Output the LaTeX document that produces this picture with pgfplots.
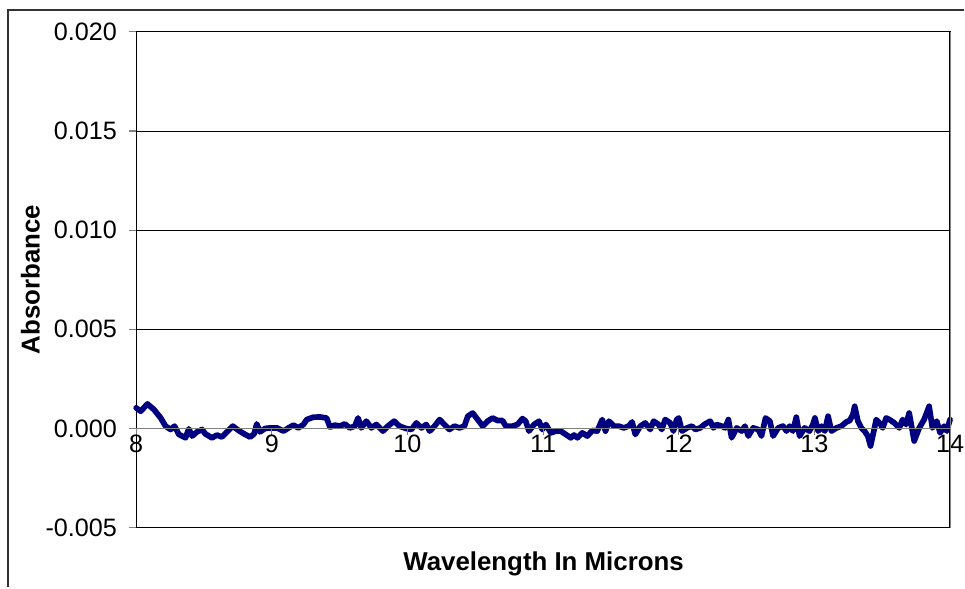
\documentclass[border=0pt]{standalone}
\usepackage{pgfplots}
\pgfplotsset{compat=1.18}
\usepackage{fontspec}
\setmainfont{Liberation Sans}
\definecolor{navyline}{RGB}{0,0,128}
\begin{document}
\begin{tikzpicture}
\begin{axis}[
  name=main,
  scale only axis, width=614.25pt, height=374.25pt,
  xmin=8, xmax=14, ymin=-0.005, ymax=0.020,
  axis lines=box,
  xtick=\empty,
  ytick={-0.005,0,0.005,0.010,0.015,0.020},
  ytick pos=left, tick align=outside, major tick length=5.25pt,
  y tick style={gray, line width=0.8pt},
  scaled y ticks=false,
  yticklabel style={/pgf/number format/fixed, /pgf/number format/fixed zerofill, /pgf/number format/precision=3, /pgf/number format/assume math mode=true},
  yticklabel style={font=\fontsize{19}{22}\selectfont, anchor=east, inner sep=0pt, xshift=-9pt},
  ymajorgrids, grid style={black, line width=0.6pt},
  axis line style={black, line width=0.9pt},
  xlabel={Wavelength In Microns},
  ylabel={Absorbance},
  xlabel style={font=\fontsize{19.5}{23}\selectfont\bfseries, at={(axis description cs:0.5006,-0.0721)}, anchor=center},
  ylabel style={font=\fontsize{19.5}{23}\selectfont\bfseries, at={(axis description cs:-0.130,0.5)}, anchor=center},
  clip=false,
]
\coordinate (ll) at (rel axis cs:0,0);
\addplot[navyline, line width=4.3pt, line join=round, line cap=round] coordinates {
(8.000,0.00104) (8.034,0.00087) (8.083,0.00124) (8.132,0.00095) (8.181,0.00053)
(8.217,0.00012) (8.254,-0.00005) (8.283,0.00012) (8.315,-0.00030) (8.364,-0.00047)
(8.388,-0.00002) (8.413,-0.00038) (8.449,-0.00017) (8.486,-0.00005) (8.510,-0.00027)
(8.559,-0.00047) (8.596,-0.00033) (8.632,-0.00043) (8.669,-0.00017) (8.713,0.00012)
(8.755,-0.00010) (8.804,-0.00030) (8.840,-0.00043) (8.870,-0.00027) (8.889,0.00023)
(8.913,-0.00017) (8.950,0.00000) (8.987,0.00003)
(9.038,0.00003) (9.087,-0.00013) (9.123,0.00003) (9.160,0.00017) (9.196,0.00003)
(9.233,0.00020) (9.258,0.00045) (9.306,0.00057) (9.355,0.00058) (9.404,0.00053)
(9.429,0.00007) (9.465,0.00017) (9.502,0.00012) (9.538,0.00023) (9.575,0.00003)
(9.612,0.00012) (9.636,0.00053) (9.660,0.00003) (9.697,0.00037) (9.734,0.00003)
(9.771,0.00020) (9.819,-0.00013) (9.856,0.00012) (9.902,0.00037) (9.941,0.00012)
(9.990,0.00000)
(10.029,-0.00005) (10.066,0.00028) (10.103,0.00003) (10.139,0.00020) (10.164,-0.00013)
(10.200,0.00012) (10.237,0.00045) (10.273,0.00020) (10.310,-0.00005) (10.347,0.00012)
(10.383,0.00003) (10.420,0.00012) (10.445,0.00062) (10.481,0.00078) (10.518,0.00045)
(10.555,0.00012) (10.591,0.00037) (10.628,0.00053) (10.664,0.00040) (10.701,0.00040)
(10.725,0.00012) (10.774,0.00012) (10.811,0.00020) (10.848,0.00050) (10.872,0.00037)
(10.896,-0.00013) (10.933,0.00020) (10.970,0.00037) (10.994,-0.00005)
(11.021,0.00020) (11.057,-0.00022) (11.094,-0.00013) (11.130,-0.00013) (11.167,-0.00030)
(11.204,-0.00047) (11.228,-0.00033) (11.253,-0.00047) (11.289,-0.00022) (11.326,-0.00038)
(11.363,-0.00010) (11.399,-0.00013) (11.436,0.00045) (11.460,-0.00013) (11.485,0.00037)
(11.522,0.00012) (11.558,0.00012) (11.595,0.00003) (11.631,0.00012) (11.656,0.00033)
(11.680,-0.00030) (11.717,0.00012) (11.753,0.00028) (11.790,-0.00005) (11.815,0.00037)
(11.851,0.00020) (11.875,-0.00005) (11.900,0.00045) (11.937,0.00028) (11.961,-0.00013)
(11.985,0.00045) (12.000,0.00053)
(12.024,-0.00013) (12.061,0.00003) (12.098,0.00012) (12.122,-0.00005) (12.158,0.00003)
(12.195,0.00023) (12.232,0.00037) (12.256,0.00003) (12.280,0.00020) (12.317,0.00012)
(12.342,0.00003) (12.366,0.00045) (12.390,-0.00047) (12.427,0.00003) (12.464,-0.00013)
(12.488,0.00012) (12.513,-0.00038) (12.549,0.00003) (12.586,-0.00005) (12.610,-0.00038)
(12.640,0.00053) (12.672,0.00037) (12.696,-0.00038) (12.733,0.00003) (12.769,0.00012)
(12.794,-0.00013) (12.818,0.00012) (12.842,-0.00013) (12.867,0.00057) (12.891,-0.00038)
(12.928,0.00003) (12.964,-0.00013) (12.989,0.00020)
(13.004,0.00053) (13.028,-0.00013) (13.053,0.00012) (13.077,-0.00013) (13.101,0.00062)
(13.126,-0.00013) (13.163,0.00003) (13.199,0.00012) (13.236,0.00033) (13.260,0.00040)
(13.284,0.00070) (13.297,0.00112) (13.321,0.00037) (13.346,0.00003) (13.370,-0.00013)
(13.394,-0.00038) (13.414,-0.00088) (13.438,-0.00013) (13.456,0.00045) (13.480,0.00028)
(13.504,0.00003) (13.529,0.00053) (13.553,0.00045) (13.590,0.00028) (13.626,0.00003)
(13.651,0.00045) (13.675,0.00020) (13.699,0.00078) (13.736,-0.00063) (13.773,0.00003)
(13.809,0.00045) (13.846,0.00112) (13.870,0.00003) (13.902,0.00037) (13.927,-0.00022)
(13.956,0.00012) (13.976,-0.00013) (14.000,0.00045)
};
\end{axis}
\begin{axis}[
  scale only axis, width=614.25pt, height=374.25pt,
  xmin=8, xmax=14, ymin=-0.005, ymax=0.020,
  axis x line=middle, axis y line=none,
  x axis line style={-, gray, line width=0.8pt},
  xtick={8,9,10,11,12,13,14},
  tick align=outside, major tick length=5pt,
  x tick style={gray, line width=0.8pt},
  hide obscured x ticks=false,
  xticklabel style={font=\fontsize{19}{22}\selectfont, anchor=north, inner sep=0pt, yshift=0pt, /pgf/number format/assume math mode=true},
]
\addplot[draw=none] coordinates {(8,0) (14,0)};
\end{axis}
\draw[gray, line width=0.8pt] ([xshift=614.25pt]ll) -- ([xshift=614.25pt,yshift=374.25pt]ll);
\draw[black!80, line width=1.1pt] ([xshift=-96.75pt,yshift=-45pt]ll) -- ([xshift=-96.75pt,yshift=390.75pt]ll) -- ([xshift=625pt,yshift=390.75pt]ll);
\path[use as bounding box] ([xshift=-102.75pt,yshift=-42pt]ll) rectangle ([xshift=621pt,yshift=398.25pt]ll);
\end{tikzpicture}
\end{document}
